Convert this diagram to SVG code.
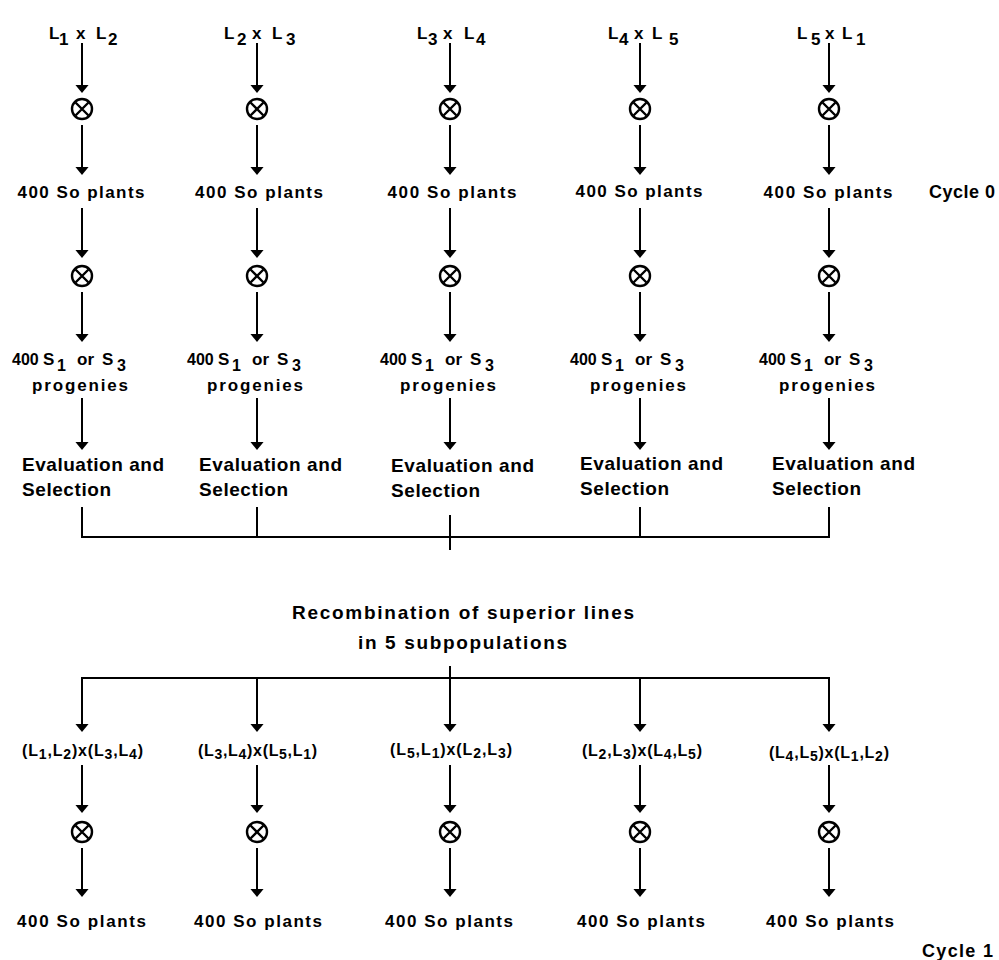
<svg xmlns="http://www.w3.org/2000/svg" width="999" height="960" viewBox="0 0 999 960">
<style>
text { font-family: "Liberation Sans", Arial, sans-serif; font-weight: bold; fill: #000; }
.lab { font-size: 17px; }
.so { font-size: 17px; text-anchor: middle; }
.prog { font-size: 17px; }
.ps { font-size: 16px; }
.n4 { font-size: 16px; }
.ev { font-size: 19px; }
.rec { font-size: 19px; }
.sub { font-size: 16px; }
.sb { font-size: 14px; }
.cyc { font-size: 18px; }
.conn path { fill: none; stroke: #000; stroke-width: 2; }
.arr { marker-end: url(#ah); }
.ox circle, .ox path { fill: none; stroke: #000; stroke-width: 2.4; }
</style>
<defs>
<marker id="ah" markerUnits="userSpaceOnUse" markerWidth="9" markerHeight="14" viewBox="0 0 9 14" refX="0.5" refY="7" orient="auto">
<path d="M0,0 L8.5,7 L0,14 z" fill="#000"/>
</marker>
<g id="otimes" class="ox">
<circle cx="0" cy="0" r="10"/>
<path d="M-6.5,-6.5 L6.5,6.5 M6.5,-6.5 L-6.5,6.5"/>
</g>
</defs>
<rect x="0" y="0" width="999" height="960" fill="#fff"/>

<!-- connectors -->
<g id="connectors" class="conn">
<path class="arr" d="M82,43 V85"/><path class="arr" d="M257,43 V85"/><path class="arr" d="M450,43 V85"/><path class="arr" d="M640,43 V85"/><path class="arr" d="M829,43 V85"/>
<path class="arr" d="M82,125 V167"/><path class="arr" d="M257,125 V167"/><path class="arr" d="M450,125 V167"/><path class="arr" d="M640,125 V167"/><path class="arr" d="M829,125 V167"/>
<path class="arr" d="M82,208 V250"/><path class="arr" d="M257,208 V250"/><path class="arr" d="M450,208 V250"/><path class="arr" d="M640,208 V250"/><path class="arr" d="M829,208 V250"/>
<path class="arr" d="M82,292 V334"/><path class="arr" d="M257,292 V334"/><path class="arr" d="M450,292 V334"/><path class="arr" d="M640,292 V334"/><path class="arr" d="M829,292 V334"/>
<path class="arr" d="M82,398 V442"/><path class="arr" d="M257,398 V442"/><path class="arr" d="M450,398 V442"/><path class="arr" d="M640,398 V442"/><path class="arr" d="M829,398 V442"/>
<path d="M82,507 V537 H829 V507 M257,507 V537 M640,507 V537 M450,515 V550"/>
<path d="M450,666 V678 M82,678 H829"/>
<path class="arr" d="M82,677 V724"/><path class="arr" d="M257,678 V724"/><path class="arr" d="M450,678 V724"/><path class="arr" d="M640,678 V724"/><path class="arr" d="M829,677 V724"/>
<path class="arr" d="M82,765 V805"/><path class="arr" d="M257,765 V805"/><path class="arr" d="M450,765 V805"/><path class="arr" d="M640,765 V805"/><path class="arr" d="M829,765 V805"/>
<path class="arr" d="M82,848 V889"/><path class="arr" d="M257,848 V889"/><path class="arr" d="M450,848 V889"/><path class="arr" d="M640,848 V889"/><path class="arr" d="M829,848 V889"/>
</g>

<g id="cross-1"><text class="lab" y="39"><tspan x="49">L</tspan><tspan x="59" y="45">1</tspan><tspan x="76" y="39">x</tspan><tspan x="96">L</tspan><tspan x="108" y="45">2</tspan></text></g>
<g id="cross-2"><text class="lab" y="39"><tspan x="224">L</tspan><tspan x="237" y="45">2</tspan><tspan x="252" y="39">x</tspan><tspan x="272">L</tspan><tspan x="286" y="45">3</tspan></text></g>
<g id="cross-3"><text class="lab" y="39"><tspan x="417">L</tspan><tspan x="428" y="45">3</tspan><tspan x="443" y="39">x</tspan><tspan x="464">L</tspan><tspan x="476" y="45">4</tspan></text></g>
<g id="cross-4"><text class="lab" y="39"><tspan x="608">L</tspan><tspan x="619" y="45">4</tspan><tspan x="634" y="39">x</tspan><tspan x="652">L</tspan><tspan x="669" y="45">5</tspan></text></g>
<g id="cross-5"><text class="lab" y="39"><tspan x="797">L</tspan><tspan x="811" y="45">5</tspan><tspan x="825" y="39">x</tspan><tspan x="842">L</tspan><tspan x="856" y="45">1</tspan></text></g>

<g id="self-a1"><use href="#otimes" x="82" y="109"/></g>
<g id="self-a2"><use href="#otimes" x="257" y="109"/></g>
<g id="self-a3"><use href="#otimes" x="450" y="109"/></g>
<g id="self-a4"><use href="#otimes" x="640" y="109"/></g>
<g id="self-a5"><use href="#otimes" x="829" y="109"/></g>

<g id="so0-1"><text class="so" x="81" y="198" textLength="127" lengthAdjust="spacing">400 So plants</text></g>
<g id="so0-2"><text class="so" x="259" y="198" textLength="128" lengthAdjust="spacing">400 So plants</text></g>
<g id="so0-3"><text class="so" x="452" y="198" textLength="129" lengthAdjust="spacing">400 So plants</text></g>
<g id="so0-4"><text class="so" x="639" y="197" textLength="127" lengthAdjust="spacing">400 So plants</text></g>
<g id="so0-5"><text class="so" x="828" y="198" textLength="129" lengthAdjust="spacing">400 So plants</text></g>

<g id="self-b1"><use href="#otimes" x="82" y="276"/></g>
<g id="self-b2"><use href="#otimes" x="257" y="276"/></g>
<g id="self-b3"><use href="#otimes" x="450" y="276"/></g>
<g id="self-b4"><use href="#otimes" x="640" y="276"/></g>
<g id="self-b5"><use href="#otimes" x="829" y="276"/></g>

<g id="prog-1" transform="translate(82,0)"><text class="prog" y="365"><tspan class="n4" x="-70">400</tspan><tspan x="-39">S</tspan><tspan class="ps" x="-25" y="371">1</tspan><tspan x="-5" y="365">or</tspan><tspan x="20">S</tspan><tspan class="ps" x="35" y="371">3</tspan></text><text class="prog" x="-50" y="391" textLength="96" lengthAdjust="spacing">progenies</text></g>
<g id="prog-2" transform="translate(257,0)"><text class="prog" y="365"><tspan class="n4" x="-70">400</tspan><tspan x="-39">S</tspan><tspan class="ps" x="-25" y="371">1</tspan><tspan x="-5" y="365">or</tspan><tspan x="20">S</tspan><tspan class="ps" x="35" y="371">3</tspan></text><text class="prog" x="-50" y="391" textLength="96" lengthAdjust="spacing">progenies</text></g>
<g id="prog-3" transform="translate(450,0)"><text class="prog" y="365"><tspan class="n4" x="-70">400</tspan><tspan x="-39">S</tspan><tspan class="ps" x="-25" y="371">1</tspan><tspan x="-5" y="365">or</tspan><tspan x="20">S</tspan><tspan class="ps" x="35" y="371">3</tspan></text><text class="prog" x="-50" y="391" textLength="96" lengthAdjust="spacing">progenies</text></g>
<g id="prog-4" transform="translate(640,0)"><text class="prog" y="365"><tspan class="n4" x="-70">400</tspan><tspan x="-39">S</tspan><tspan class="ps" x="-25" y="371">1</tspan><tspan x="-5" y="365">or</tspan><tspan x="20">S</tspan><tspan class="ps" x="35" y="371">3</tspan></text><text class="prog" x="-50" y="391" textLength="96" lengthAdjust="spacing">progenies</text></g>
<g id="prog-5" transform="translate(829,0)"><text class="prog" y="365"><tspan class="n4" x="-70">400</tspan><tspan x="-39">S</tspan><tspan class="ps" x="-25" y="371">1</tspan><tspan x="-5" y="365">or</tspan><tspan x="20">S</tspan><tspan class="ps" x="35" y="371">3</tspan></text><text class="prog" x="-50" y="391" textLength="96" lengthAdjust="spacing">progenies</text></g>

<g id="eval-1"><text class="ev" x="22" y="471" textLength="142" lengthAdjust="spacing">Evaluation and</text><text class="ev" x="22" y="496" textLength="89" lengthAdjust="spacing">Selection</text></g>
<g id="eval-2"><text class="ev" x="199" y="471" textLength="143" lengthAdjust="spacing">Evaluation and</text><text class="ev" x="199" y="496" textLength="89" lengthAdjust="spacing">Selection</text></g>
<g id="eval-3"><text class="ev" x="391" y="472" textLength="143" lengthAdjust="spacing">Evaluation and</text><text class="ev" x="391" y="497" textLength="89" lengthAdjust="spacing">Selection</text></g>
<g id="eval-4"><text class="ev" x="580" y="470" textLength="143" lengthAdjust="spacing">Evaluation and</text><text class="ev" x="580" y="495" textLength="89" lengthAdjust="spacing">Selection</text></g>
<g id="eval-5"><text class="ev" x="772" y="470" textLength="143" lengthAdjust="spacing">Evaluation and</text><text class="ev" x="772" y="495" textLength="89" lengthAdjust="spacing">Selection</text></g>

<g id="recomb"><text class="rec" x="292" y="619" textLength="342" lengthAdjust="spacing">Recombination of superior lines</text><text class="rec" x="358" y="649" textLength="209" lengthAdjust="spacing">in 5 subpopulations</text></g>

<g id="sub-1"><text class="sub" x="22" y="756" textLength="121" lengthAdjust="spacing">(L<tspan class="sb" dy="3">1</tspan><tspan dy="-3">,L</tspan><tspan class="sb" dy="3">2</tspan><tspan dy="-3">)x(L</tspan><tspan class="sb" dy="3">3</tspan><tspan dy="-3">,L</tspan><tspan class="sb" dy="3">4</tspan><tspan dy="-3">)</tspan></text></g>
<g id="sub-2"><text class="sub" x="198" y="756" textLength="119" lengthAdjust="spacing">(L<tspan class="sb" dy="3">3</tspan><tspan dy="-3">,L</tspan><tspan class="sb" dy="3">4</tspan><tspan dy="-3">)x(L</tspan><tspan class="sb" dy="3">5</tspan><tspan dy="-3">,L</tspan><tspan class="sb" dy="3">1</tspan><tspan dy="-3">)</tspan></text></g>
<g id="sub-3"><text class="sub" x="390" y="755" textLength="122" lengthAdjust="spacing">(L<tspan class="sb" dy="3">5</tspan><tspan dy="-3">,L</tspan><tspan class="sb" dy="3">1</tspan><tspan dy="-3">)x(L</tspan><tspan class="sb" dy="3">2</tspan><tspan dy="-3">,L</tspan><tspan class="sb" dy="3">3</tspan><tspan dy="-3">)</tspan></text></g>
<g id="sub-4"><text class="sub" x="582" y="756" textLength="120" lengthAdjust="spacing">(L<tspan class="sb" dy="3">2</tspan><tspan dy="-3">,L</tspan><tspan class="sb" dy="3">3</tspan><tspan dy="-3">)x(L</tspan><tspan class="sb" dy="3">4</tspan><tspan dy="-3">,L</tspan><tspan class="sb" dy="3">5</tspan><tspan dy="-3">)</tspan></text></g>
<g id="sub-5"><text class="sub" x="769" y="758" textLength="120" lengthAdjust="spacing">(L<tspan class="sb" dy="3">4</tspan><tspan dy="-3">,L</tspan><tspan class="sb" dy="3">5</tspan><tspan dy="-3">)x(L</tspan><tspan class="sb" dy="3">1</tspan><tspan dy="-3">,L</tspan><tspan class="sb" dy="3">2</tspan><tspan dy="-3">)</tspan></text></g>

<g id="self-c1"><use href="#otimes" x="82" y="832"/></g>
<g id="self-c2"><use href="#otimes" x="257" y="832"/></g>
<g id="self-c3"><use href="#otimes" x="450" y="832"/></g>
<g id="self-c4"><use href="#otimes" x="640" y="832"/></g>
<g id="self-c5"><use href="#otimes" x="829" y="832"/></g>

<g id="so1-1"><text class="so" x="81.5" y="927" textLength="129" lengthAdjust="spacing">400 So plants</text></g>
<g id="so1-2"><text class="so" x="258" y="927" textLength="128" lengthAdjust="spacing">400 So plants</text></g>
<g id="so1-3"><text class="so" x="449" y="927" textLength="128" lengthAdjust="spacing">400 So plants</text></g>
<g id="so1-4"><text class="so" x="641" y="927" textLength="128" lengthAdjust="spacing">400 So plants</text></g>
<g id="so1-5"><text class="so" x="830" y="927" textLength="128" lengthAdjust="spacing">400 So plants</text></g>

<g id="cycle0"><text class="cyc" x="929" y="198" textLength="66" lengthAdjust="spacing">Cycle 0</text></g>
<g id="cycle1"><text class="cyc" x="922" y="957" textLength="71" lengthAdjust="spacing">Cycle 1</text></g>
</svg>
